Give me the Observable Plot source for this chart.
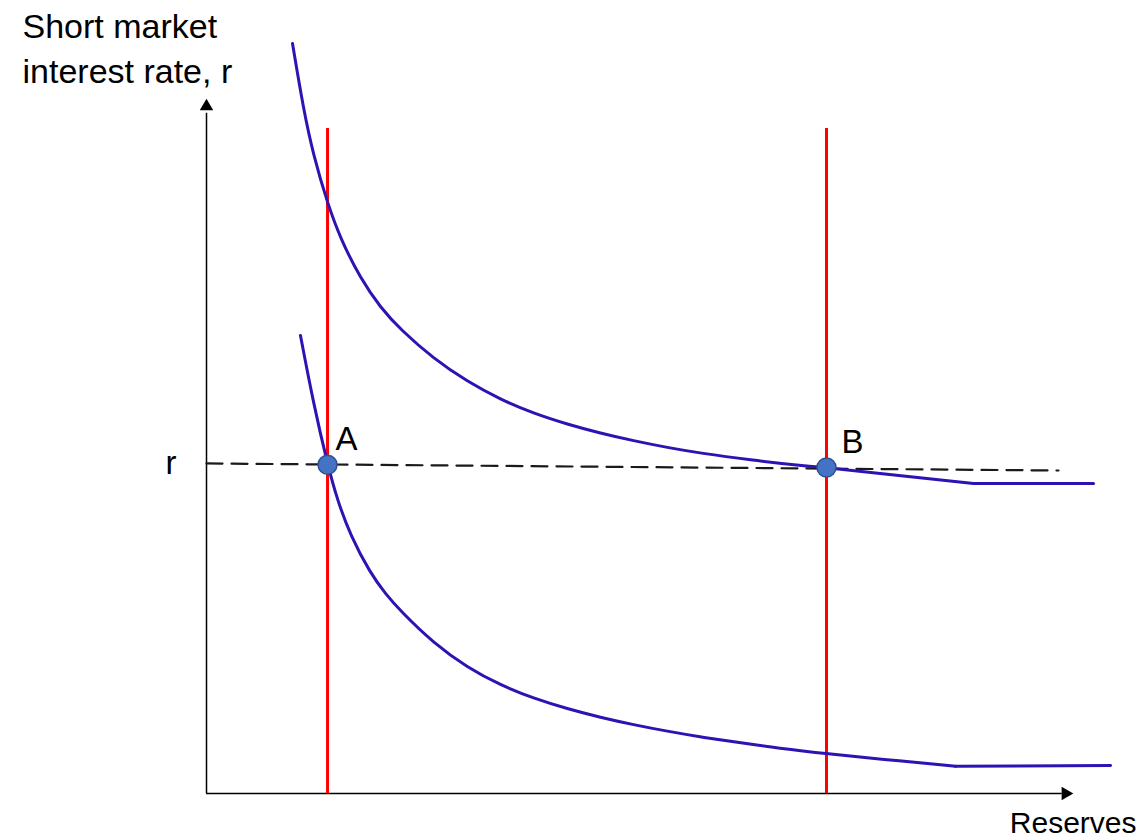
<!DOCTYPE html>
<html>
<head>
<meta charset="utf-8">
<script src="https://cdn.jsdelivr.net/npm/d3@7"></script>
<script src="https://cdn.jsdelivr.net/npm/@observablehq/plot@0.6"></script>
<style>
  html, body { margin: 0; padding: 0; background: #fff; }
  #chart svg { display: block; }
</style>
</head>
<body>
<div id="chart"></div>
<script>
// ---- Data (reserves on x, short market interest rate on y; arbitrary units 0–100) ----
const titleLines = ["Short market", "interest rate, r"];
const xLabel = "Reserves";
const rLabel = "r";

// Upper reserve-demand curve (curved part, then straight tail)
const upperCurve = [
  [9.92, 109.49], [11.19, 99.85], [12.34, 93.14], [13.96, 86.13], [15.46, 80.98],
  [17.76, 75.17], [20.07, 70.93], [22.38, 67.72], [26.18, 63.49], [30.10, 60.12],
  [33.91, 57.52], [37.72, 55.49], [41.64, 53.90], [45.44, 52.60], [49.25, 51.49],
  [53.17, 50.50], [56.98, 49.68], [62.75, 48.69], [68.51, 47.88], [71.51, 47.56]
];
const upperTail = [[71.51, 47.56], [88.47, 45.26], [102.31, 45.26]];

// Lower reserve-demand curve
const lowerCurve = [
  [10.84, 66.86], [12.34, 56.93], [13.96, 48.03], [15.11, 42.77], [16.61, 37.65],
  [18.92, 32.10], [20.65, 29.15], [22.38, 26.63], [26.18, 21.96], [30.10, 18.38],
  [33.91, 15.82], [37.72, 13.90], [41.64, 12.36], [45.44, 11.11], [49.25, 10.04],
  [53.17, 9.08], [56.98, 8.26], [60.44, 7.61], [66.21, 6.58], [71.63, 5.80],
  [77.74, 5.02], [86.39, 3.99]
];
const lowerTail = [[86.39, 3.99], [104.27, 4.09]];

// Reserve supply (vertical lines) at two reserve levels
const supplyX = [13.96, 71.51];
const supplyTop = 97.08;

// Target rate r (dashed line)
const rLine = [[0, 48.18], [98.27, 47.15]];

// Equilibrium points
const pointNames = ["A", "B"];
const pointX = [13.96, 71.51];
const pointY = [48.0, 47.6];

// Axes extents
const xAxisEnd = 98.7, yAxisEnd = 99.3;
const xArrow = [99.08, 0], yArrow = [0, 100.3];

// ---- Build tables ----
const toXY = (arr) => arr.map(([x, y]) => ({x, y}));
const points = pointNames.map((name, i) => ({name, x: pointX[i], y: pointY[i]}));
const supply = supplyX.map(x => ({x, y1: 0, y2: supplyTop}));

const blue = "#2f12b3";
const font = "Liberation Sans, Arial, sans-serif";

const chart = Plot.plot({
  width: 1143,
  height: 837,
  margin: 0,
  style: {background: "#fff", fontFamily: font},
  x: {domain: [0, 100], range: [206, 1073], axis: null},
  y: {domain: [0, 100], range: [793, 108], axis: null},
  marks: [
    // axes
    Plot.ruleY([0], {x1: 0, x2: xAxisEnd, stroke: "#000", strokeWidth: 1.5}),
    Plot.ruleX([0], {y1: 0, y2: yAxisEnd, stroke: "#000", strokeWidth: 1.5}),
    Plot.dot([{x: xArrow[0], y: xArrow[1]}], {x: "x", y: "y", symbol: "triangle", r: 5, rotate: 90, fill: "#000", stroke: null}),
    Plot.dot([{x: yArrow[0], y: yArrow[1]}], {x: "x", y: "y", symbol: "triangle", r: 5, rotate: 0, fill: "#000", stroke: null}),
    // dashed r line
    Plot.line(toXY(rLine), {x: "x", y: "y", stroke: "#1a1a1a", strokeWidth: 2.2, strokeDasharray: "16,9"}),
    // supply lines
    Plot.ruleX(supply, {x: "x", y1: "y1", y2: "y2", stroke: "#ff0000", strokeWidth: 3}),
    // demand curves
    Plot.line(toXY(upperCurve), {x: "x", y: "y", stroke: blue, strokeWidth: 3, curve: "basis"}),
    Plot.line(toXY(upperTail), {x: "x", y: "y", stroke: blue, strokeWidth: 3}),
    Plot.line(toXY(lowerCurve), {x: "x", y: "y", stroke: blue, strokeWidth: 3, curve: "basis"}),
    Plot.line(toXY(lowerTail), {x: "x", y: "y", stroke: blue, strokeWidth: 3}),
    // points
    Plot.dot(points, {x: "x", y: "y", r: 9.5, fill: "#4472c4", stroke: "#2f528f", strokeWidth: 1.5}),
    Plot.text(points.filter(d => d.name === "A"), {x: "x", y: "y", text: "name", textAnchor: "start", dx: 8, dy: -25, fontSize: 33, fill: "#000"}),
    Plot.text(points.filter(d => d.name === "B"), {x: "x", y: "y", text: "name", textAnchor: "start", dx: 15, dy: -25, fontSize: 33, fill: "#000"}),
    // r label
    Plot.text([rLabel], {x: 0, y: rLine[0][1], text: d => d, textAnchor: "end", dx: -30, dy: 0, fontSize: 33, fill: "#000"}),
    // y title (two lines)
    Plot.text([titleLines[0]], {frameAnchor: "top-left", text: d => d, textAnchor: "start", lineAnchor: "bottom", dx: 22, dy: 37, fontSize: 34, fill: "#000"}),
    Plot.text([titleLines[1]], {frameAnchor: "top-left", text: d => d, textAnchor: "start", lineAnchor: "bottom", dx: 22, dy: 82, fontSize: 34, fill: "#000"}),
    // x title
    Plot.text([xLabel], {frameAnchor: "bottom-right", text: d => d, textAnchor: "end", lineAnchor: "bottom", dx: -7, dy: -5, fontSize: 30, fill: "#000"})
  ]
});

document.getElementById("chart").appendChild(chart);
</script>
</body>
</html>
